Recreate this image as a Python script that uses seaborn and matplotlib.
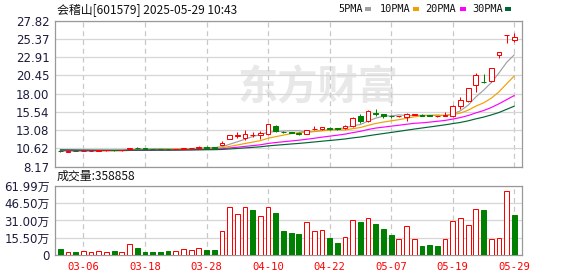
import numpy as np
import pandas as pd
import matplotlib
matplotlib.use("Agg")
import matplotlib.pyplot as plt
from matplotlib.patches import Rectangle
import seaborn as sns

# ---------------- data ----------------
dates = ["03-03", "03-04", "03-05", "03-06", "03-07", "03-10", "03-11", "03-12", "03-13", "03-14",
         "03-17", "03-18", "03-19", "03-20", "03-21", "03-24", "03-25", "03-26", "03-27", "03-28",
         "03-31", "04-01", "04-02", "04-03", "04-07", "04-08", "04-09", "04-10", "04-11", "04-14",
         "04-15", "04-16", "04-17", "04-18", "04-21", "04-22", "04-23", "04-24", "04-25", "04-28",
         "04-29", "04-30", "05-06", "05-07", "05-08", "05-09", "05-12", "05-13", "05-14", "05-15",
         "05-16", "05-19", "05-20", "05-21", "05-22", "05-23", "05-26", "05-27", "05-28", "05-29"]

opens = [10.32, 10.18, 10.28, 10.22, 10.28, 10.30, 10.34, 10.40, 10.34, 10.48,
         10.66, 10.60, 10.57, 10.55, 10.53, 10.50, 10.55, 10.62, 10.70, 10.80,
         10.74, 11.10, 11.92, 12.23, 11.96, 12.37, 12.46, 12.50, 13.65, 12.85,
         12.80, 12.75, 12.55, 13.20, 13.17, 13.35, 13.30, 13.30, 13.61, 14.95,
         14.25, 15.40, 15.27, 15.00, 14.93, 14.87, 15.15, 15.14, 15.10, 14.92,
         14.98, 14.95, 16.29, 17.00, 19.16, 19.62, 19.74, 23.18, 25.94, 25.20]
closes = [10.20, 10.24, 10.22, 10.30, 10.32, 10.36, 10.38, 10.34, 10.40, 10.70,
          10.60, 10.56, 10.54, 10.52, 10.50, 10.54, 10.68, 10.70, 10.76, 10.72,
          10.70, 11.30, 12.36, 12.40, 12.50, 12.48, 12.63, 13.89, 12.95, 12.77,
          12.73, 12.60, 13.05, 13.28, 13.44, 13.26, 13.24, 13.60, 14.74, 14.30,
          15.60, 15.20, 14.92, 14.95, 14.97, 15.18, 15.22, 15.02, 15.00, 14.95,
          15.05, 16.30, 17.10, 18.76, 20.50, 19.55, 21.44, 23.58, 25.94, 25.60]
highs = [10.36, 10.26, 10.30, 10.32, 10.34, 10.38, 10.40, 10.42, 10.42, 10.72,
         10.75, 10.62, 10.58, 10.56, 10.55, 10.56, 10.70, 10.72, 10.88, 10.93,
         10.78, 11.60, 12.40, 12.86, 13.07, 12.80, 12.94, 13.89, 13.75, 12.95,
         12.85, 12.78, 13.15, 13.60, 13.50, 13.50, 13.40, 13.80, 14.80, 15.20,
         15.73, 15.94, 15.27, 15.05, 15.00, 15.40, 15.30, 15.30, 15.12, 15.00,
         15.45, 16.45, 17.50, 18.80, 20.77, 20.68, 21.44, 23.58, 25.94, 26.13]
lows = [10.18, 10.15, 10.20, 10.20, 10.26, 10.28, 10.32, 10.32, 10.32, 10.46,
        10.55, 10.52, 10.50, 10.48, 10.46, 10.48, 10.53, 10.58, 10.66, 10.68,
        10.66, 11.02, 11.85, 12.06, 11.74, 12.10, 11.83, 12.45, 12.85, 12.70,
        12.65, 12.45, 12.50, 13.05, 13.10, 13.15, 13.10, 13.25, 13.55, 14.05,
        14.20, 14.95, 14.70, 14.75, 14.90, 14.28, 15.10, 14.95, 14.95, 14.88,
        14.95, 14.90, 15.94, 16.90, 18.17, 19.43, 19.51, 22.73, 24.79, 24.92]
# closes before the window (needed for the moving averages at the left edge)
prior_closes = [10.50, 10.52, 10.55, 10.53, 10.50, 10.48, 10.52, 10.55, 10.50, 10.47,
                10.45, 10.48, 10.50, 10.46, 10.44, 10.42, 10.45, 10.40, 10.38, 10.36,
                10.40, 10.38, 10.35, 10.33, 10.30, 10.28, 10.30, 10.27, 10.25]

volumes_wan = [5.4, 2.4, 2.7, 3.3, 2.4, 3.3, 2.4, 3.6, 2.4, 9.6,
               6.3, 2.7, 2.7, 2.7, 3.6, 3.3, 5.1, 4.5, 6.0, 4.5,
               4.5, 21.3, 42.8, 36.8, 42.8, 40.4, 34.7, 42.8, 37.7, 21.6,
               19.8, 18.9, 29.6, 21.6, 22.5, 15.3, 10.8, 15.9, 31.1, 29.6,
               32.9, 27.9, 23.4, 18.0, 14.1, 25.8, 14.1, 8.1, 9.0, 8.1,
               14.1, 30.2, 32.9, 26.7, 41.0, 40.4, 14.1, 15.0, 57.2, 35.89]
volume_up = [0, 1, 0, 1, 1, 1, 1, 0, 1, 1,
             0, 0, 0, 0, 0, 1, 1, 1, 1, 0,
             0, 1, 1, 1, 1, 0, 1, 1, 0, 0,
             0, 0, 1, 1, 1, 0, 0, 1, 1, 0,
             1, 0, 0, 0, 1, 1, 1, 0, 0, 0,
             1, 1, 1, 1, 1, 0, 1, 1, 1, 0]

price_ticks = [8.17, 10.62, 13.08, 15.54, 18.00, 20.45, 22.91, 25.37, 27.82]
volume_ticks = [0, 15.50, 31.00, 46.50, 61.99]
volume_tick_labels = ["0", "15.50万", "31.00万", "46.50万", "61.99万"]
date_tick_labels = ["03-06", "03-18", "03-28", "04-10", "04-22", "05-07", "05-19", "05-29"]
ma_periods = [5, 10, 20, 30]
ma_colors = ["#a0a0a0", "#f0a000", "#ff00ff", "#006633"]
title_text = "会稽山[601579] 2025-05-29 10:43"
volume_text = "成交量:358858"

# ---------------- styling ----------------
sns.set_style("white")
plt.rcParams["font.family"] = ["DejaVu Sans", "Noto Sans CJK SC"]

RED = "#ff0000"
GREEN = "#008000"
SPINE = "#999999"
GRID = "#d6d6d6"
LABEL = "#1c1c3c"
LW = 0.72

W, H = 578, 276
fig = plt.figure(figsize=(W / 100, H / 100), dpi=100)

def fx(px):
    return px / W

def fy(py):
    return 1 - py / H

left, right = 55, 522
ax = fig.add_axes([fx(left), fy(166.5), fx(right - left), (166.5 - 20.7) / H])
axv = fig.add_axes([fx(left), fy(255), fx(right - left), (255 - 186) / H])

n = len(dates)
idx = np.arange(n)
o = np.array(opens); c = np.array(closes); h = np.array(highs); l = np.array(lows)

# moving averages
allc = pd.Series(prior_closes + closes)
df = pd.DataFrame({"idx": idx, "date": dates})
for p in ma_periods:
    df[f"ma{p}"] = allc.rolling(p).mean().iloc[len(prior_closes):].to_numpy()

# ---------------- price panel ----------------
xmin, xmax = -0.69, 60.0
for a in (ax, axv):
    a.set_xlim(xmin, xmax)
    for s in a.spines.values():
        s.set_color(SPINE)
        s.set_linewidth(0.9)

tick_pos = [dates.index(d) for d in date_tick_labels]

ax.set_ylim(price_ticks[0], price_ticks[-1])
ax.set_yticks(price_ticks)
ax.set_yticklabels([f"{v:.2f}" for v in price_ticks], fontsize=8.5, color=LABEL)
ax.set_xticks(tick_pos)
ax.set_xticklabels([])
ax.tick_params(axis="y", length=3, color=SPINE, pad=1)
ax.tick_params(axis="x", length=0)
ax.grid(axis="y", color=GRID, lw=0.9, ls="-")
ax.grid(axis="x", color="#c8c8c8", lw=0.9, ls=(0, (4, 3)))
ax.set_axisbelow(True)

# watermark
ax.text(fx(318), fy(88), "东方财富", transform=fig.transFigure, ha="center", va="center",
        fontsize=29, color="#e8e8e8", fontweight="bold",
        family=["Noto Sans CJK SC", "DejaVu Sans"], zorder=0.5)

for p, col in zip(ma_periods, ma_colors):
    sns.lineplot(data=df, x="idx", y=f"ma{p}", ax=ax, color=col, lw=0.85, zorder=2)
ax.set_xlabel("")
ax.set_ylabel("")

bw = 0.62
up = c >= o
body_lo = np.minimum(o, c)
body_hi = np.maximum(o, c)
body_h = np.maximum(body_hi - body_lo, 0.015)
for i in range(n):
    if up[i]:
        ax.vlines(i, l[i], body_lo[i], color=RED, lw=LW, zorder=3)
        ax.vlines(i, body_hi[i], h[i], color=RED, lw=LW, zorder=3)
        ax.bar(i, body_h[i], bottom=body_lo[i], width=bw, facecolor="white",
               edgecolor=RED, lw=LW, zorder=4)
    else:
        ax.vlines(i, l[i], h[i], color=GREEN, lw=LW, zorder=3)
        ax.bar(i, body_h[i], bottom=body_lo[i], width=bw, facecolor=GREEN,
               edgecolor=GREEN, lw=LW, zorder=4)

# ---------------- volume panel ----------------
vdf = pd.DataFrame({"idx": idx, "vol": volumes_wan})
sns.barplot(data=vdf, x="idx", y="vol", ax=axv, native_scale=True, width=bw,
            color="white", errorbar=None, zorder=3)
for patch, u in zip(axv.patches, volume_up):
    if u:
        patch.set_facecolor("white"); patch.set_edgecolor(RED)
    else:
        patch.set_facecolor(GREEN); patch.set_edgecolor(GREEN)
    patch.set_linewidth(LW)
axv.set_xlim(xmin, xmax)
axv.set_ylim(0, volume_ticks[-1])
axv.set_yticks(volume_ticks)
axv.set_yticklabels(volume_tick_labels, fontsize=8.5, color=LABEL)
axv.set_xticks(tick_pos)
axv.set_xticklabels(date_tick_labels, fontsize=7.6, color=RED, family="DejaVu Sans Mono")
axv.tick_params(axis="y", length=3, color=SPINE, pad=1)
axv.tick_params(axis="x", length=0, pad=5)
axv.grid(axis="y", color=GRID, lw=0.9, ls="-")
axv.grid(axis="x", color="#c8c8c8", lw=0.9, ls=(0, (4, 3)))
axv.set_axisbelow(True)
axv.set_xlabel("")
axv.set_ylabel("")

# ---------------- header texts ----------------
fig.text(fx(57), fy(10), title_text, fontsize=8.6, color="#111111", va="center", ha="left",
         family=["Noto Sans CJK SC", "DejaVu Sans"])
fig.text(fx(57), fy(176), volume_text, fontsize=8.6, color="#111111", va="center", ha="left",
         family=["Noto Sans CJK SC", "DejaVu Sans"])

legend_items = [("5PMA", 338, 365), ("10PMA", 380, 413), ("20PMA", 425, 460), ("30PMA", 472, 505)]
for (lab, tx, sx), col in zip(legend_items, ma_colors):
    fig.text(fx(tx), fy(9), lab, fontsize=7.4, color="#111111", va="center", ha="left",
             family="DejaVu Sans Mono")
    fig.add_artist(Rectangle((fx(sx), fy(11)), 6 / W, 4 / H, transform=fig.transFigure,
                             facecolor=col, edgecolor="none"))

fig.savefig("out.png", dpi=100, facecolor="white")
